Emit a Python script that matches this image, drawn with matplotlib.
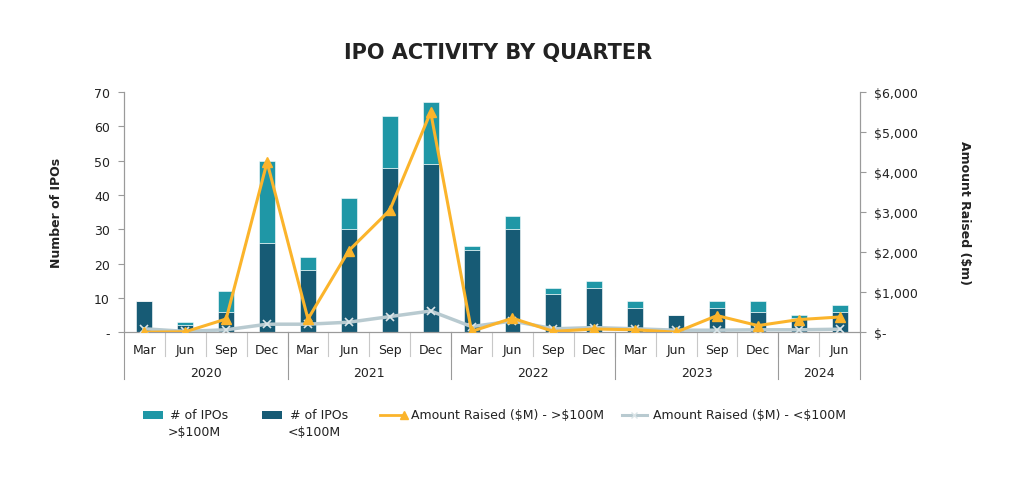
import matplotlib.pyplot as plt
from matplotlib.lines import Line2D
from matplotlib.patches import Rectangle
from matplotlib.ticker import FuncFormatter
import matplotlib.transforms as mtransforms

plt.rcParams['font.family'] = ['DejaVu Sans']

quarters = ['Mar', 'Jun', 'Sep', 'Dec', 'Mar', 'Jun', 'Sep', 'Dec', 'Mar', 'Jun',
            'Sep', 'Dec', 'Mar', 'Jun', 'Sep', 'Dec', 'Mar', 'Jun']
years = ['2020', '2021', '2022', '2023', '2024']
year_sizes = [4, 4, 4, 4, 2]

ipos_small = [9, 2, 6, 26, 18, 30, 48, 49, 24, 30, 11, 13, 7, 5, 7, 6, 4, 6]
ipos_total = [9, 3, 12, 50, 22, 39, 63, 67, 25, 34, 13, 15, 9, 5, 9, 9, 5, 8]
ipos_big = [t - s for t, s in zip(ipos_total, ipos_small)]

raised_big = [0, 10, 330, 4250, 330, 2040, 3050, 5500, 20, 350, 20, 80, 60, 0, 415, 165, 315, 380]
raised_small = [85, 20, 60, 200, 200, 250, 390, 530, 140, 280, 85, 115, 85, 50, 50, 60, 60, 75]

legend_labels = [('# of IPOs', '>$100M'), ('# of IPOs', '<$100M'),
                 'Amount Raised ($M) - >$100M', 'Amount Raised ($M) - <$100M']

c_big = '#1f97a6'
c_small = '#175b75'
c_orange = '#fbb42b'
c_gray = '#b8cad0'
c_axis = '#9a9a9a'
c_text = '#222222'
fs = 9

fig = plt.figure(figsize=(10.24, 4.85), dpi=100)
ax = fig.add_axes([0.121, 0.313, 0.719, 0.495])
ax2 = ax.twinx()

x = list(range(len(quarters)))
ax.bar(x, ipos_small, width=0.39, color=c_small, edgecolor='white', linewidth=0.4, zorder=2)
ax.bar(x, ipos_big, bottom=ipos_small, width=0.39, color=c_big, edgecolor='white', linewidth=0.4, zorder=2)

ax2.plot(x, raised_small, color=c_gray, linewidth=2.5, marker='x', markersize=6,
         markeredgewidth=1.2, markeredgecolor='#dbe5e8', zorder=3)
ax2.plot(x, raised_big, color=c_orange, linewidth=2.2, marker='^', markersize=7, zorder=4)

ax.set_xlim(-0.5, len(quarters) - 0.5)
ax.set_ylim(0, 70)
ax2.set_ylim(0, 6000)
ax.set_yticks(range(0, 71, 10))
ax2.set_yticks(range(0, 6001, 1000))
ax.yaxis.set_major_formatter(FuncFormatter(lambda v, p: '-' if v == 0 else f'{int(v)}'))
ax2.yaxis.set_major_formatter(FuncFormatter(lambda v, p: '$-' if v == 0 else f'${int(v):,}'))

for a in (ax, ax2):
    a.spines['top'].set_visible(False)
    for s in ('left', 'right', 'bottom'):
        a.spines[s].set_color(c_axis)
        a.spines[s].set_linewidth(0.8)
ax.tick_params(axis='y', colors=c_axis, labelcolor=c_text, labelsize=fs, length=4, pad=6)
ax2.tick_params(axis='y', colors=c_axis, labelcolor=c_text, labelsize=fs, length=4, pad=6)

ax.set_xticks(x)
ax.set_xticklabels([])
ax.tick_params(axis='x', length=0)

trans = mtransforms.blended_transform_factory(ax.transData, ax.transAxes)
for i, q in enumerate(quarters):
    ax.text(i, -0.07, q, transform=trans, ha='center', va='center', fontsize=fs, color=c_text)
for i in range(1, len(quarters)):
    ax.plot([i - 0.5, i - 0.5], [0, -0.1], transform=trans, color='#c8c8c8', linewidth=0.8, clip_on=False)

start = 0
edges = [-0.5]
for yr, n in zip(years, year_sizes):
    ax.text(start + (n - 1) / 2, -0.167, yr, transform=trans, ha='center', va='center',
            fontsize=fs, color=c_text)
    start += n
    edges.append(start - 0.5)
for e in edges:
    ax.plot([e, e], [0, -0.195], transform=trans, color=c_axis, linewidth=0.8, clip_on=False)

ax.set_ylabel('Number of IPOs', fontsize=fs, fontweight='bold', color=c_text, labelpad=22)
ax2.set_ylabel('Amount Raised ($m)', fontsize=fs, fontweight='bold', color=c_text,
               rotation=-90, labelpad=38)

fig.text(0.486, 0.891, 'IPO ACTIVITY BY QUARTER', ha='center', va='center',
         fontsize=15, fontweight='bold', color=c_text)

# legend drawn by hand (figure pixel coords -> fractions)
W, H = 1024, 485
ly = 1 - 416 / H
ly2 = 1 - 432 / H
fig.add_artist(Rectangle((143 / W, 1 - 420 / H), 20 / W, 8 / H, transform=fig.transFigure,
                         facecolor=c_big, edgecolor='none'))
fig.add_artist(Rectangle((262 / W, 1 - 420 / H), 20 / W, 8 / H, transform=fig.transFigure,
                         facecolor=c_small, edgecolor='none'))
fig.add_artist(Line2D([380 / W, 404 / W], [ly, ly], transform=fig.transFigure, color=c_orange,
                      linewidth=2, marker='^', markersize=6, markevery=[1]))
fig.add_artist(Line2D([622 / W, 647 / W], [ly, ly], transform=fig.transFigure, color=c_gray,
                      linewidth=2.2))
fig.add_artist(Line2D([634 / W], [ly], transform=fig.transFigure, color='#dbe5e8',
                      marker='x', markersize=5, linestyle='none'))
for (l1, l2), x0, x1 in zip(legend_labels[:2], (170, 290), (168, 288)):
    fig.text(x0 / W, ly, l1, fontsize=fs, color=c_text, va='center', parse_math=False)
    fig.text(x1 / W, ly2, l2, fontsize=fs, color=c_text, va='center', parse_math=False)
for lbl, x0 in zip(legend_labels[2:], (411, 653)):
    fig.text(x0 / W, ly, lbl, fontsize=fs, color=c_text, va='center', parse_math=False)

fig.savefig('out.png', dpi=100, facecolor='white')
